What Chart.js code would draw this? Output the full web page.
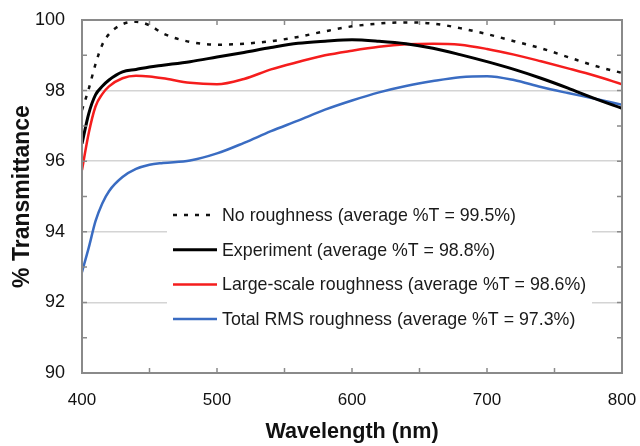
<!DOCTYPE html>
<html>
<head>
<meta charset="utf-8">
<script src="https://cdn.jsdelivr.net/npm/chart.js@4/dist/chart.umd.min.js"></script>
<style>
  html, body { margin: 0; padding: 0; background: #fff; }
  #wrap { width: 640px; height: 446px; }
</style>
</head>
<body>
<div id="wrap"><canvas id="transChart"></canvas></div>
<script>
// Wavelength (nm) sampled along the curves
const wavelengths = [400, 405, 410, 415, 420, 430, 440, 450, 460, 480, 500, 520, 540, 560, 580, 600, 620, 640, 660, 680, 700, 720, 740, 760, 780, 800];

// % transmittance for each curve
const noRoughness = [97.45, 98.05, 98.75, 99.3, 99.6, 99.88, 99.95, 99.85, 99.62, 99.38, 99.3, 99.33, 99.4, 99.52, 99.68, 99.82, 99.9, 99.93, 99.9, 99.77, 99.6, 99.4, 99.2, 98.95, 98.7, 98.5];
const experiment = [96.5, 97.35, 97.88, 98.12, 98.3, 98.53, 98.6, 98.67, 98.72, 98.82, 98.95, 99.08, 99.22, 99.34, 99.4, 99.44, 99.4, 99.33, 99.2, 99.02, 98.82, 98.6, 98.35, 98.07, 97.77, 97.5];
const largeScale = [95.75, 96.8, 97.55, 97.9, 98.12, 98.35, 98.42, 98.4, 98.35, 98.22, 98.18, 98.33, 98.6, 98.81, 99.0, 99.13, 99.24, 99.31, 99.33, 99.3, 99.18, 99.02, 98.83, 98.63, 98.42, 98.18];
const totalRms = [92.86, 93.55, 94.3, 94.8, 95.15, 95.55, 95.78, 95.9, 95.95, 96.02, 96.22, 96.52, 96.85, 97.15, 97.46, 97.72, 97.95, 98.13, 98.27, 98.38, 98.41, 98.3, 98.1, 97.93, 97.77, 97.6];

const seriesLabels = [
    'No roughness (average %T = 99.5%)',
    'Experiment (average %T = 98.8%)',
    'Large-scale roughness (average %T = 98.6%)',
    'Total RMS roughness (average %T = 97.3%)'
];

const xTicks = [400, 500, 600, 700, 800];
const yTicks = [90, 92, 94, 96, 98, 100];

const FONT = 'Liberation Sans, Arial, Helvetica, sans-serif';

function pts(vals) {
    return vals.map((v, i) => ({ x: wavelengths[i], y: v }));
}

// legend box sitting inside the plot area
const innerLegend = {
    id: 'innerLegend',
    afterDatasetsDraw(chart) {
        const { ctx, chartArea: a } = chart;
        const left = a.left + 85, top = a.top + 178;
        ctx.save();
        ctx.fillStyle = '#fff';
        ctx.fillRect(left, top, 425, 138);
        ctx.font = '17.8px ' + FONT;
        ctx.textBaseline = 'middle';
        chart.data.datasets.forEach((ds, i) => {
            const yy = top + 17 + i * 34.7;
            ctx.strokeStyle = ds.borderColor;
            ctx.lineWidth = ds.borderWidth;
            ctx.setLineDash(ds.borderDash || []);
            ctx.beginPath();
            ctx.moveTo(left + 6, yy);
            ctx.lineTo(left + 50, yy);
            ctx.stroke();
            ctx.setLineDash([]);
            ctx.fillStyle = '#1a1a1a';
            ctx.fillText(ds.label, left + 55, yy + 1);
        });
        ctx.restore();
    }
};

// frame + inward tick marks, like the original spreadsheet plot
const frameTicks = {
    id: 'frameTicks',
    afterDatasetsDraw(chart) {
        const { ctx, chartArea: a, scales: { x, y } } = chart;
        ctx.save();
        ctx.strokeStyle = '#8a8a8a';
        ctx.lineWidth = 1.5;
        ctx.beginPath();
        for (let w = 450; w < 800; w += 50) {
            const px = x.getPixelForValue(w);
            ctx.moveTo(px, a.bottom); ctx.lineTo(px, a.bottom - 5);
            ctx.moveTo(px, a.top); ctx.lineTo(px, a.top + 5);
        }
        for (let t = 91; t < 100; t += 1) {
            const py = y.getPixelForValue(t);
            ctx.moveTo(a.left, py); ctx.lineTo(a.left + 5, py);
            ctx.moveTo(a.right, py); ctx.lineTo(a.right - 5, py);
        }
        ctx.stroke();
        ctx.lineWidth = 2;
        ctx.strokeRect(a.left, a.top, a.right - a.left, a.bottom - a.top);
        ctx.restore();
    }
};

new Chart(document.getElementById('transChart'), {
    type: 'line',
    data: {
        datasets: [
            { label: seriesLabels[0], data: pts(noRoughness), borderColor: '#111', borderWidth: 2.5, borderDash: [4, 7] },
            { label: seriesLabels[1], data: pts(experiment), borderColor: '#000', borderWidth: 3 },
            { label: seriesLabels[2], data: pts(largeScale), borderColor: '#f51d1d', borderWidth: 2.5 },
            { label: seriesLabels[3], data: pts(totalRms), borderColor: '#3a6cc2', borderWidth: 2.5 }
        ]
    },
    options: {
        responsive: true,
        maintainAspectRatio: false,
        animation: false,
        elements: {
            point: { radius: 0 },
            line: { cubicInterpolationMode: 'monotone', fill: false }
        },
        layout: { padding: { top: 20, right: 18, left: 9, bottom: 1 } },
        plugins: {
            legend: { display: false },
            tooltip: { enabled: false }
        },
        scales: {
            x: {
                type: 'linear',
                min: 400,
                max: 800,
                afterBuildTicks: s => { s.ticks = xTicks.map(v => ({ value: v })); },
                afterFit: s => { s.height = 72; s.paddingLeft = 0; s.paddingRight = 0; },
                ticks: { color: '#111', font: { family: FONT, size: 17 }, padding: 17, maxRotation: 0 },
                grid: { display: false, drawTicks: false },
                border: { display: false },
                title: { display: true, text: 'Wavelength (nm)', color: '#111', font: { family: FONT, size: 21.6, weight: 'bold' }, padding: { top: 9, bottom: 0 } }
            },
            y: {
                min: 90,
                max: 100,
                afterBuildTicks: s => { s.ticks = yTicks.map(v => ({ value: v })); },
                afterFit: s => { s.width = 73; s.paddingTop = 0; s.paddingBottom = 0; },
                ticks: { color: '#111', font: { family: FONT, size: 18 }, padding: 17 },
                grid: { color: '#d4d4d4', lineWidth: 1.5, drawTicks: false },
                border: { display: false },
                title: { display: true, text: '% Transmittance', color: '#111', font: { family: FONT, size: 23, weight: 'bold' }, padding: { top: 0, bottom: 0 } }
            }
        }
    },
    plugins: [innerLegend, frameTicks]
});
</script>
</body>
</html>
